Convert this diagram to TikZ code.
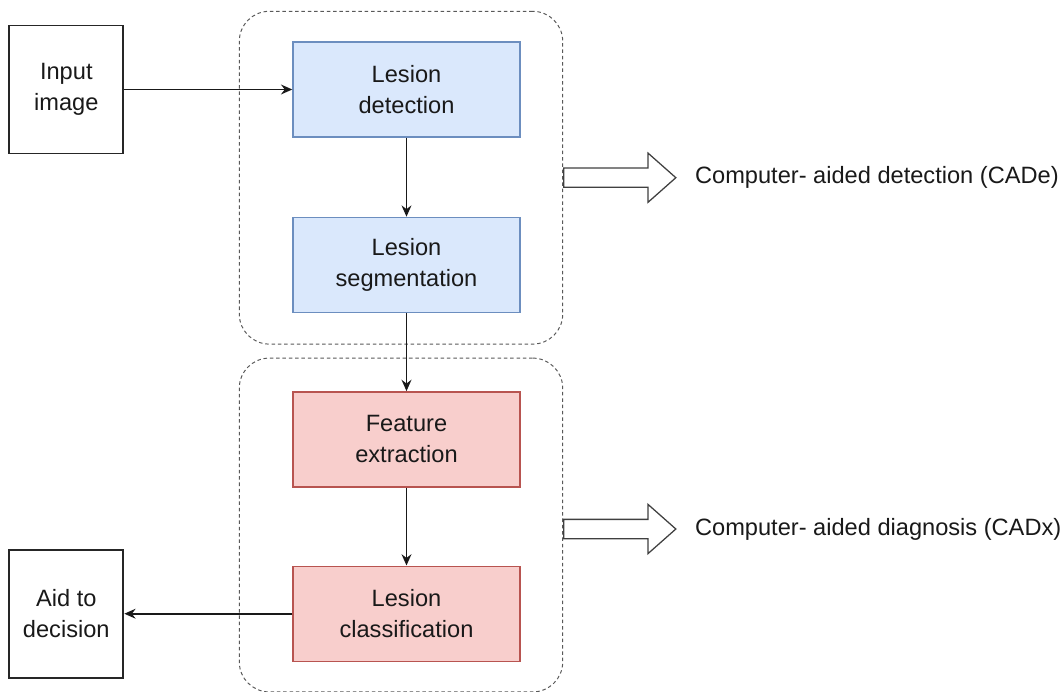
\documentclass[tikz,border=0pt]{standalone}
\usepackage{fontspec}
\setmainfont{Liberation Sans}
\usetikzlibrary{arrows.meta,shapes.arrows,positioning,fit,calc}

\definecolor{detfill}{HTML}{DAE8FC}
\definecolor{detline}{HTML}{6C8EBF}
\definecolor{diagfill}{HTML}{F8CECC}
\definecolor{diagline}{HTML}{B85450}

\begin{document}
\begin{tikzpicture}[
  font=\fontsize{16.8}{22}\selectfont,
  >={Stealth[length=8pt,width=7pt]},
  % STYLES
  every node/.style={align=center, text=black!90},
  % OWNs
  iobox/.style={rectangle, draw=black!85, line width=1.4pt, fill=white,
    minimum width=2.85cm, minimum height=3.2cm},
  cadebox/.style={rectangle, draw=detline, fill=detfill, line width=1pt,
    minimum width=5.675cm, minimum height=2.375cm},
  cadxbox/.style={cadebox, draw=diagline, fill=diagfill},
  group/.style={draw=black!65, line width=0.7pt, dash pattern=on 2.5pt off 2pt,
    rounded corners=0.75cm, inner sep=0pt},
  hollow/.style={single arrow, draw=black!75, fill=white, line width=0.9pt,
    minimum height=2.8cm, minimum width=1.2cm, inner sep=0.225cm,
    single arrow head extend=0.375cm, single arrow tip angle=83},
  comme/.style={inner sep=0pt, anchor=west}]

  \useasboundingbox (0,0) rectangle (26.6,-17.3);

  \node[cadebox] (det) at (10.1625,-2.2375) {Lesion\\detection};
    \node[cadebox] [below=1.975cm of det](seg) {Lesion\\segmentation};
    \node[cadxbox] [below=1.95cm of seg](feat) {Feature\\extraction};
    \node[cadxbox] [below=1.95cm of feat](cls) {Lesion\\classification};

  \node[iobox] [left=4.2cm of det](input) {Input\\image};
  \node[iobox] [left=4.2cm of cls](aid) {Aid to\\decision};

  % dashed groups
  \coordinate (cadeNW) at ($(det.north west)+(-1.325,0.75)$);
  \coordinate (cadeSE) at ($(seg.south east)+(1.05,-0.775)$);
  \node[group, fit=(cadeNW)(cadeSE)] (cade) {};
  \coordinate (cadxNW) at ($(feat.north west)+(-1.325,0.825)$);
  \coordinate (cadxSE) at ($(cls.south east)+(1.05,-0.75)$);
  \node[group, fit=(cadxNW)(cadxSE)] (cadx) {};

  \node[hollow, anchor=west] (cadeArrow) at (cade.east) {};
  \node[hollow, anchor=west] (cadxArrow) at ($(cadx.east)+(0,-0.1)$) {};
  \node[comme] [right=0.45cm of cadeArrow](c1) {Computer- aided detection (CADe)};
  \node[comme] [right=0.45cm of cadxArrow](c2) {Computer- aided diagnosis (CADx)};

  \path[->, line width=1.2pt, draw=black!90]
    (input) edge (det)
    (det) edge (seg)
    (seg) edge (feat)
    (feat) edge (cls)
    (cls) edge (aid);
\end{tikzpicture}
\end{document}
